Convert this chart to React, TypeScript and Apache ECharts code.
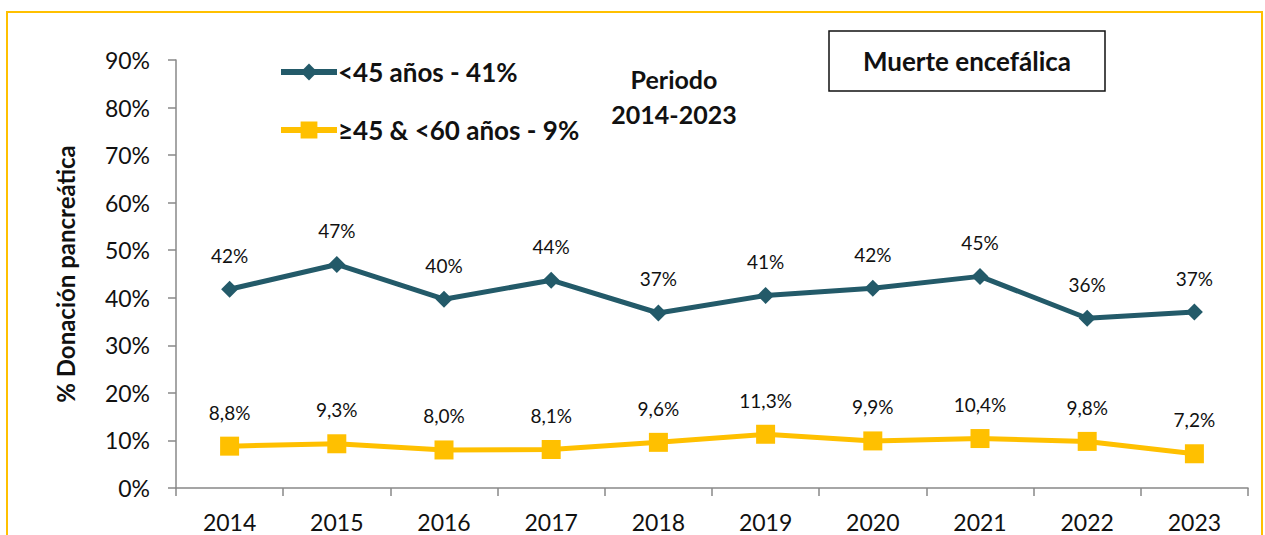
import React, { useEffect, useRef } from "react";
import * as echarts from "echarts";

const years = ["2014", "2015", "2016", "2017", "2018", "2019", "2020", "2021", "2022", "2023"];
const under45 = [41.8, 47.0, 39.7, 43.7, 36.8, 40.5, 42.0, 44.5, 35.7, 37.0];
const under45Labels = ["42%", "47%", "40%", "44%", "37%", "41%", "42%", "45%", "36%", "37%"];
const from45to60 = [8.8, 9.3, 8.0, 8.1, 9.6, 11.3, 9.9, 10.4, 9.8, 7.2];
const from45to60Labels = ["8,8%", "9,3%", "8,0%", "8,1%", "9,6%", "11,3%", "9,9%", "10,4%", "9,8%", "7,2%"];
const seriesNames = ["<45 años - 41%", "≥45 & <60 años - 9%"];

const FONT = "Lato, 'Open Sans', sans-serif";
const TEAL = "#235A69";
const GOLD = "#FFC000";

export default function App() {
  const ref = useRef<HTMLDivElement>(null);
  useEffect(() => {
    document.body.style.margin = "0";
    const chart = echarts.init(ref.current!, null, { renderer: "svg" });
    chart.setOption({
      animation: false,
      textStyle: { fontFamily: FONT },
      grid: { left: 176, top: 60, right: 17, bottom: 47, containLabel: false },
      legend: {
        orient: "vertical",
        left: 273,
        top: 54,
        itemGap: 32,
        itemWidth: 56,
        itemHeight: 21,
        lineStyle: { width: 6 },
        textStyle: { fontFamily: FONT, fontSize: 26, fontWeight: "bold", color: "#111", padding: [0, 0, 0, -4] },
        data: seriesNames,
      },
      xAxis: {
        type: "category",
        data: years,
        boundaryGap: true,
        axisLine: { lineStyle: { color: "#888", width: 1.5 } },
        axisTick: { show: true, length: 8, lineStyle: { color: "#888", width: 1.5 } },
        axisLabel: { fontFamily: FONT, fontSize: 23, color: "#111", margin: 22 },
      },
      yAxis: {
        type: "value",
        min: 0,
        max: 90,
        interval: 10,
        name: "% Donación pancreática",
        nameLocation: "middle",
        nameGap: 99,
        nameRotate: 90,
        nameTextStyle: { fontFamily: FONT, fontSize: 24, fontWeight: "bold", color: "#111" },
        axisLine: { show: true, lineStyle: { color: "#888", width: 1.5 } },
        axisTick: { show: true, length: 8, lineStyle: { color: "#888", width: 1.5 } },
        splitLine: { show: false },
        axisLabel: { fontFamily: FONT, fontSize: 23, color: "#111", margin: 26, formatter: "{value}%" },
      },
      series: [
        {
          name: seriesNames[0],
          type: "line",
          data: under45,
          symbol: "diamond",
          symbolSize: 17,
          lineStyle: { color: TEAL, width: 5 },
          itemStyle: { color: TEAL },
          label: {
            show: true,
            position: "top",
            distance: 16,
            fontFamily: FONT,
            fontSize: 19,
            color: "#111",
            formatter: (p: any) => under45Labels[p.dataIndex],
          },
        },
        {
          name: seriesNames[1],
          type: "line",
          data: from45to60,
          symbol: "rect",
          symbolSize: 19,
          lineStyle: { color: GOLD, width: 5 },
          itemStyle: { color: GOLD },
          label: {
            show: true,
            position: "top",
            distance: 15,
            fontFamily: FONT,
            fontSize: 19,
            color: "#111",
            formatter: (p: any) => from45to60Labels[p.dataIndex],
          },
        },
      ],
      graphic: [
        {
          type: "rect",
          shape: { x: 7, y: 12, width: 1255, height: 540 },
          style: { fill: "none", stroke: GOLD, lineWidth: 2 },
          silent: true,
        },
        {
          type: "rect",
          shape: { x: 829, y: 31, width: 276, height: 60 },
          style: { fill: "#fff", stroke: "#111", lineWidth: 1.5 },
        },
        {
          type: "text",
          x: 967,
          y: 61,
          style: {
            text: "Muerte encefálica",
            fontFamily: FONT,
            fontSize: 26,
            fontWeight: "bold",
            fill: "#111",
            align: "center",
            verticalAlign: "middle",
          },
        },
        {
          type: "text",
          x: 674,
          y: 96,
          style: {
            text: "Periodo\n2014-2023",
            fontFamily: FONT,
            fontSize: 25,
            fontWeight: "bold",
            fill: "#111",
            align: "center",
            verticalAlign: "middle",
            lineHeight: 35,
          },
        },
      ],
    });
    return () => chart.dispose();
  }, []);
  return <div ref={ref} style={{ width: 1265, height: 535 }} />;
}
